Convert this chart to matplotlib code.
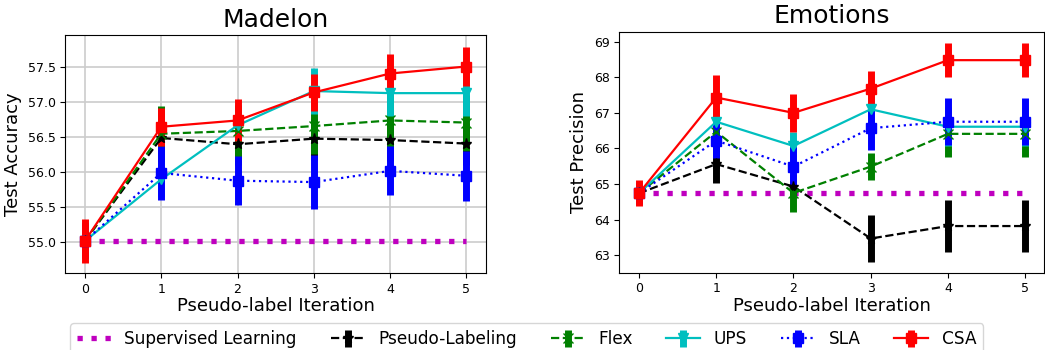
import matplotlib
matplotlib.use("Agg")
import matplotlib.pyplot as plt
import numpy as np

iterations = [0, 1, 2, 3, 4, 5]
methods = ["Supervised Learning", "Pseudo-Labeling", "Flex", "UPS", "SLA", "CSA"]

# Madelon (Test Accuracy)
mad_sup = [55.02, 55.02, 55.02, 55.02, 55.02, 55.02]
mad_pl = [55.02, 56.49, 56.40, 56.48, 56.46, 56.41]
mad_pl_err = [0.25, 0.30, 0.30, 0.30, 0.30, 0.30]
mad_flex = [55.02, 56.55, 56.59, 56.66, 56.74, 56.71]
mad_flex_err = [0.25, 0.40, 0.37, 0.40, 0.38, 0.40]
mad_ups = [55.02, 55.90, 56.67, 57.16, 57.13, 57.13]
mad_ups_err = [0.25, 0.25, 0.20, 0.33, 0.33, 0.33]
mad_sla = [55.02, 55.99, 55.88, 55.86, 56.02, 55.95]
mad_sla_err = [0.25, 0.38, 0.35, 0.38, 0.35, 0.36]
mad_csa = [55.02, 56.65, 56.74, 57.14, 57.41, 57.51]
mad_csa_err = [0.31, 0.27, 0.30, 0.27, 0.28, 0.28]

# Emotions (Test Precision)
emo_sup = [64.74, 64.74, 64.74, 64.74, 64.74, 64.74]
emo_pl = [64.74, 65.56, 64.93, 63.47, 63.82, 63.82]
emo_pl_err = [0.30, 0.54, 0.30, 0.65, 0.72, 0.72]
emo_flex = [64.74, 66.47, 64.75, 65.49, 66.41, 66.41]
emo_flex_err = [0.30, 0.40, 0.53, 0.37, 0.64, 0.64]
emo_ups = [64.74, 66.75, 66.07, 67.10, 66.61, 66.61]
emo_ups_err = [0.30, 0.40, 0.40, 0.40, 0.55, 0.55]
emo_sla = [64.74, 66.22, 65.49, 66.57, 66.75, 66.75]
emo_sla_err = [0.30, 0.50, 0.56, 0.60, 0.66, 0.66]
emo_csa = [64.74, 67.43, 67.00, 67.68, 68.48, 68.48]
emo_csa_err = [0.37, 0.62, 0.53, 0.50, 0.47, 0.47]

styles = {
    "Pseudo-Labeling": dict(color="k", ls="--", marker="*", ms=8),
    "Flex": dict(color="g", ls="--", marker="x", ms=7),
    "UPS": dict(color="c", ls="-", marker="v", ms=7),
    "SLA": dict(color="b", ls=":", marker="s", ms=7),
    "CSA": dict(color="r", ls="-", marker="s", ms=7),
}

fig = plt.figure(figsize=(10.45, 3.5), dpi=100)
ax1 = fig.add_axes([0.0625, 0.219, 0.4023, 0.681])
ax2 = fig.add_axes([0.5926, 0.2209, 0.4062, 0.6886])


def draw(ax, sup, series):
    ax.plot(iterations, sup, color="m", ls=":", lw=3.8, label=methods[0])
    for name, (vals, errs) in series.items():
        st = styles[name]
        ax.errorbar(iterations, vals, yerr=errs, color=st["color"], ls=st["ls"],
                    marker=st["marker"], ms=st["ms"], lw=1.6, elinewidth=5,
                    capsize=0, label=name)
    ax.set_xticks(iterations)
    ax.tick_params(labelsize=9)
    ax.set_xlabel("Pseudo-label Iteration", fontsize=13, labelpad=1)


draw(ax1, mad_sup, {
    "Pseudo-Labeling": (mad_pl, mad_pl_err),
    "Flex": (mad_flex, mad_flex_err),
    "UPS": (mad_ups, mad_ups_err),
    "SLA": (mad_sla, mad_sla_err),
    "CSA": (mad_csa, mad_csa_err),
})
ax1.set_ylim(54.557, 57.96)
ax1.set_xlim(-0.258, 5.254)
ax1.set_yticks([55.0, 55.5, 56.0, 56.5, 57.0, 57.5])
ax1.yaxis.set_major_formatter(matplotlib.ticker.FormatStrFormatter("%.1f"))
ax1.grid(True, color="#cccccc", lw=1.2)
ax1.set_axisbelow(True)
ax1.set_title("Madelon", fontsize=18)
ax1.set_ylabel("Test Accuracy", fontsize=13)

draw(ax2, emo_sup, {
    "Pseudo-Labeling": (emo_pl, emo_pl_err),
    "Flex": (emo_flex, emo_flex_err),
    "UPS": (emo_ups, emo_ups_err),
    "SLA": (emo_sla, emo_sla_err),
    "CSA": (emo_csa, emo_csa_err),
})
ax2.set_ylim(62.51, 69.28)
ax2.set_xlim(-0.255, 5.24)
ax2.set_yticks([63, 64, 65, 66, 67, 68, 69])
ax2.set_title("Emotions", fontsize=18)
ax2.set_ylabel("Test Precision", fontsize=13)

handles, labels = ax1.get_legend_handles_labels()
fig.legend(handles, labels, loc="upper center", bbox_to_anchor=(0.504, 0.1),
           ncol=6, fontsize=12.2, frameon=True)

fig.savefig("out.png", dpi=100)
